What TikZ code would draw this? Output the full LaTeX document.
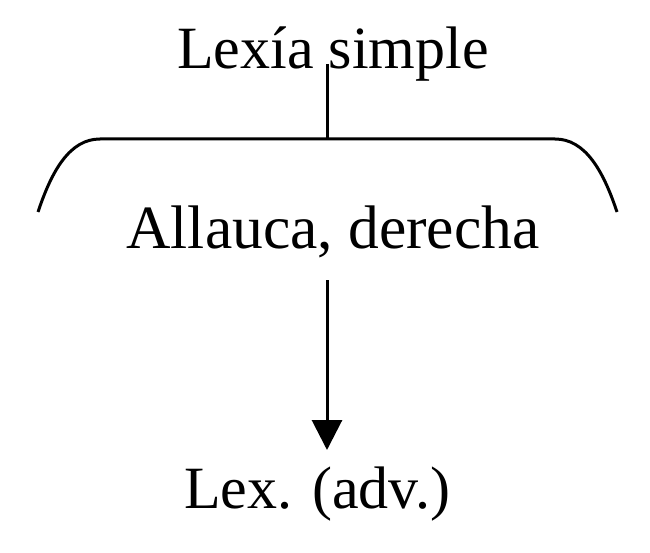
\documentclass[tikz,border=0pt]{standalone}
\usepackage{fontspec}
\setmainfont{Liberation Serif}
\usetikzlibrary{arrows.meta}
\begin{document}
\begin{tikzpicture}[x=1pt,y=-1pt,
  lbl/.style={anchor=base,inner sep=0pt,font=\fontsize{60}{72}\selectfont},
  ln/.style={line width=3pt,black}]
\useasboundingbox (0,0) rectangle (650,553);
\node[lbl] (top) at (333,69) {Lexía simple};
\node[lbl,font=\fontsize{61.5}{72}\selectfont] (mid) at (333,249) {Allauca, derecha};
\node[lbl] (bot) at (317,508) {Lex. (adv.)};
\coordinate (stemtop) at (327,64);
\coordinate (stembot) at (327,139);
\coordinate (bl) at (38,212);
\coordinate (br) at (617,212);
\coordinate (arrtop) at (327,280);
\coordinate (arrbot) at (327,450);
\draw[ln] (bl) .. controls (52,170) and (70,139) .. (100,139) -- (555,139) .. controls (585,139) and (603,170) .. (br);
\draw[ln] (stemtop) -- (stembot);
\draw[ln,-{Triangle[length=30pt,width=30pt]}] (arrtop) -- (arrbot);
\end{tikzpicture}
\end{document}
